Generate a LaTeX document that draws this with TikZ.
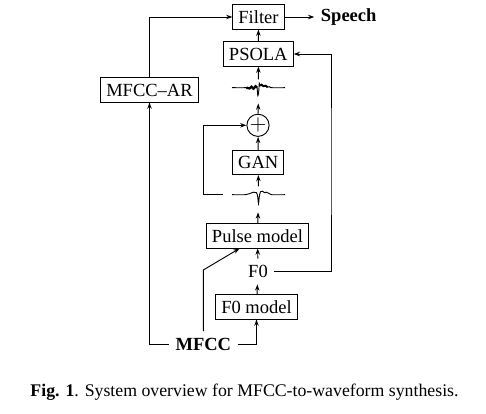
\documentclass[tikz,border=0pt]{standalone}
\usepackage{fontspec}
\setmainfont{Liberation Serif}
\usepackage{tikz}
\usetikzlibrary{calc, positioning}
\usetikzlibrary{shapes, arrows, arrows.meta}
\tikzset{
    auto,node distance =1.1 cm and 1.1 cm,% one px of the reference is 0.54pt
    x=0.54pt, y=-0.54pt,
}

\begin{document}
\begin{tikzpicture}
            [line width=0.5pt,
            block/.style={draw, inner xsep=3pt, inner ysep=0pt, minimum height=13pt},
            wave/.style={inner sep=0pt, minimum width=28.6pt, minimum height=8.6pt},
            summ/.style={draw, circle, inner sep=0pt, minimum size=8.6pt},
            arr/.style={-{Stealth[length=3.4pt, width=2.4pt]}},
            ln/.style={line width=0.5pt}]
            \useasboundingbox (0,0) rectangle (486,414);
            \node(filter) [block] at (258.5,17) {Filter};
            \node(speech) at (348.7,17) {\textbf{Speech}};
            \node(psola) [block] at (258.3,54) {PSOLA};
            \node(mfccar) [block] at (149.5,90) {MFCC--AR};
            \node(wave1) [wave] at (258.5,87.7) {};
            \node(plus) [summ] at (258,125.3) {\large$+$};
            \node(gan) [block] at (258.3,162.5) {GAN};
            \node(wave2) [wave] at (258.5,194.7) {};
            \node(pulse) [block] at (257.5,236) {Pulse model};
            \node(f0) at (258,271.5) {F0};
            \node(f0model) [block] at (256.5,307) {F0 model};
            \node(mfcc) at (203.3,344) {\textbf{MFCC}};
            \node(caption) at (244.5,392.3) {\fontsize{9.6pt}{11pt}\selectfont\textbf{Fig. 1}. System overview for MFCC-to-waveform synthesis.};
            % waveforms
            \draw[ln, shift={(wave1.center)}] plot[smooth, tension=0.5] coordinates {(-26.5,0) (-13,0) (-11,-0.5) (-9,0.8) (-7,-1) (-5,1) (-3,-1.5) (-1.5,0) (-0.6,8) (0.3,3) (0.8,-4.4) (1.8,-2) (3,-3) (5,-1.5) (7,-2) (9,-0.5) (11,-1) (13,0) (26.5,0)};
            \draw[line width=1.2pt, shift={(wave1.center)}] plot[smooth, tension=0.5] coordinates {(-12,0) (-9,0.8) (-7,-1) (-5,1) (-3,-1.5) (-1.5,0)};
            \draw[line width=1pt, shift={(wave1.center)}] plot[smooth, tension=0.5] coordinates {(1.8,-2) (3,-3) (5,-1.5) (7,-2) (9,-0.5)};
            \draw[ln, shift={(wave2.center)}] plot[smooth, tension=0.5] coordinates {(-26.5,0) (-13,0) (-9,-1) (-5,-2.5) (-2,-2) (-0.8,2) (0,9) (0.8,2) (2,-3) (4,-3.5) (6,-2) (8,-2.5) (10,-1.5) (13,0) (26.5,0)};
            % signal flow
            \draw[arr] (filter) -- (speech);
            \draw[arr] (psola) -- (filter);
            \draw[arr] (wave1) -- (psola);
            \draw[arr, shorten >=4pt] (plus) -- (wave1);
            \draw[arr] (gan) -- (plus);
            \draw[arr] (wave2) -- (gan);
            \draw[arr, shorten >=5pt] (pulse) -- (wave2);
            \draw[arr, shorten <=4.8pt] (wave2.west) -- +(-27.7,0) |- (plus.west);
            \draw[arr] (f0) -- (pulse);
            \draw[arr] (f0model) -- (f0);
            \draw[arr] (f0.east) -| (331,160) |- (psola.east);
            \draw[arr] (mfccar.north) |- (filter.west);
            \draw[arr] (mfcc.west) -| (mfccar.south);
            \draw[arr] (mfcc.east) -| (f0model.south);
            \draw[arr] (mfcc.north) -- (203.3,270) -- ([xshift=-9.7pt]pulse.south);
        \end{tikzpicture}
\end{document}
